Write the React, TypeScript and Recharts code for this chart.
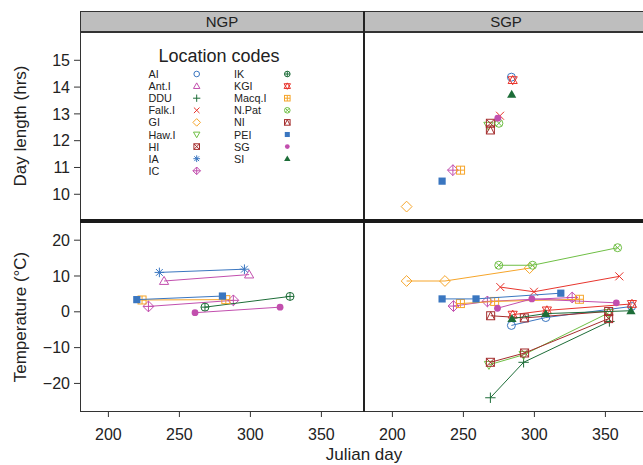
import { ScatterChart, Scatter, XAxis, YAxis } from 'recharts'

const FONT = '"Liberation Sans", Arial, Helvetica, sans-serif'
const INK = '#222'
const FRAME = '#333'

// location codes, in the legend's order; symbol = R pch 1..17
const LOCATIONS = [
  'AI', 'Ant.I', 'DDU', 'Falk.I', 'GI', 'Haw.I', 'HI', 'IA', 'IC',
  'IK', 'KGI', 'Macq.I', 'N.Pat', 'NI', 'PEI', 'SG', 'SI',
]
const PALETTE = ['#3a76c0', '#c24fae', '#1d6d38', '#e8352d', '#f6a52a', '#6fbf45', '#a42d2d']

const X_TICKS = [200, 250, 300, 350]
const DAY_TICKS = [10, 11, 12, 13, 14, 15]
const TEMP_TICKS = [-20, -10, 0, 10, 20]

type Row = [string, number, number]

// [location, julian day, hours]
const SGP_DAY_LENGTH: Row[] = [
  ['AI', 283.8, 14.37],
  ['Falk.I', 275.8, 12.93],
  ['GI', 210, 9.54],
  ['Haw.I', 267.6, 12.56],
  ['HI', 269, 12.65],
  ['IC', 242.6, 10.9],
  ['KGI', 284.7, 14.26],
  ['Macq.I', 248, 10.9],
  ['N.Pat', 275, 12.65],
  ['NI', 269, 12.4],
  ['PEI', 235, 10.49],
  ['SG', 274.2, 12.84],
  ['SI', 284, 13.73],
]

// [location, julian day, degC]
const NGP_TEMPERATURE: Row[] = [
  ['Ant.I', 239.2, 8.6], ['Ant.I', 299.1, 10.4],
  ['IA', 235.9, 11.0], ['IA', 295.8, 11.9],
  ['IC', 228.2, 1.5], ['IC', 288, 3.2],
  ['IK', 268, 1.3], ['IK', 327.9, 4.3],
  ['Macq.I', 223.7, 3.3], ['Macq.I', 282.7, 3.4],
  ['PEI', 220, 3.4], ['PEI', 280.3, 4.4],
  ['SG', 261, -0.25], ['SG', 320.9, 1.3],
]

const SGP_TEMPERATURE: Row[] = [
  ['AI', 283.8, -3.8], ['AI', 308, -1.6], ['AI', 368.5, 1.5],
  ['DDU', 269, -24.0], ['DDU', 292.4, -14.1], ['DDU', 352.8, -2.7],
  ['Falk.I', 276, 6.9], ['Falk.I', 299.7, 5.6], ['Falk.I', 359.8, 9.9],
  ['GI', 210, 8.6], ['GI', 237, 8.6], ['GI', 296.6, 12.2],
  ['Haw.I', 268, -14.8], ['Haw.I', 292.4, -12.0], ['Haw.I', 352.3, -0.3],
  ['HI', 269, -14.1], ['HI', 293.1, -11.5], ['HI', 352.3, -1.9],
  ['IC', 243, 1.6], ['IC', 266.9, 2.9], ['IC', 326.6, 4.0],
  ['KGI', 284.7, -0.8], ['KGI', 308.8, 0.4], ['KGI', 368.7, 2.2],
  ['Macq.I', 247.9, 2.3], ['Macq.I', 272, 2.9], ['Macq.I', 331.7, 3.5],
  ['N.Pat', 274.9, 13.0], ['N.Pat', 298.7, 13.0], ['N.Pat', 358.6, 17.9],
  ['NI', 269.2, -1.1], ['NI', 292.9, -1.7], ['NI', 352.3, 0.1],
  ['PEI', 235, 3.6], ['PEI', 258.9, 3.6], ['PEI', 318.6, 5.2],
  ['SG', 274, 1.0], ['SG', 298.2, 3.6], ['SG', 357.7, 2.5],
  ['SI', 284.2, -1.9], ['SI', 308, -0.5], ['SI', 368, 0.3],
]

const colorOf = (i: number) => PALETTE[i % PALETTE.length]

function Marker({ cx, cy, pch, color, s = 4 }: { cx: number; cy: number; pch: number; color: string; s?: number }) {
  const st = { stroke: color, strokeWidth: 1, fill: 'none' }
  const sq = <rect x={cx - s} y={cy - s} width={2 * s} height={2 * s} {...st} />
  const circ = <circle cx={cx} cy={cy} r={s} {...st} />
  const d = s * 1.35
  const diamond = <polygon points={`${cx},${cy - d} ${cx + d},${cy} ${cx},${cy + d} ${cx - d},${cy}`} {...st} />
  const tw = s * 1.15
  const up = `${cx},${cy - s * 1.15} ${cx - tw},${cy + s * 0.85} ${cx + tw},${cy + s * 0.85}`
  const down = `${cx},${cy + s * 1.15} ${cx - tw},${cy - s * 0.85} ${cx + tw},${cy - s * 0.85}`
  const plus = (r: number) => <path d={`M${cx - r},${cy}H${cx + r}M${cx},${cy - r}V${cy + r}`} {...st} />
  const cross = (r: number) => <path d={`M${cx - r},${cy - r}L${cx + r},${cy + r}M${cx - r},${cy + r}L${cx + r},${cy - r}`} {...st} />
  switch (pch) {
    case 1: return circ
    case 2: return <polygon points={up} {...st} />
    case 3: return plus(s * 1.3)
    case 4: return cross(s)
    case 5: return diamond
    case 6: return <polygon points={down} {...st} />
    case 7: return <g>{sq}{cross(s)}</g>
    case 8: return <g>{plus(s * 1.2)}{cross(s * 0.85)}</g>
    case 9: return <g>{diamond}{plus(d)}</g>
    case 10: return <g>{circ}{plus(s)}</g>
    case 11: return <g><polygon points={up} {...st} /><polygon points={down} {...st} /></g>
    case 12: return <g>{sq}{plus(s)}</g>
    case 13: return <g>{circ}{cross(s * 0.7)}</g>
    case 14: return <g>{sq}<polyline points={`${cx - s},${cy + s} ${cx},${cy - s} ${cx + s},${cy + s}`} {...st} /></g>
    case 15: return <rect x={cx - s * 0.9} y={cy - s * 0.9} width={s * 1.8} height={s * 1.8} fill={color} />
    case 16: return <circle cx={cx} cy={cy} r={s * 0.85} fill={color} />
    case 17: return <polygon points={up} fill={color} />
    default: return null
  }
}

function seriesFor(rows: Row[]) {
  return LOCATIONS.map((loc, i) => ({
    loc,
    i,
    points: rows
      .filter((r) => r[0] === loc)
      .map((r) => ({ day: r[1], value: r[2] }))
      .sort((a, b) => a.day - b.day),
  })).filter((s) => s.points.length > 0)
}

const fmt = (v: number) => (v < 0 ? `\u2212${-v}` : `${v}`)

interface PanelProps {
  rows: Row[]
  left: number
  top: number
  width: number
  height: number
  yDomain: [number, number]
  yTicks: number[]
  showY: boolean
  showX: boolean
}

function Panel({ rows, left, top, width, height, yDomain, yTicks, showY, showX }: PanelProps) {
  const series = seriesFor(rows)
  return (
    <div style={{ position: 'absolute', left, top }}>
      <ScatterChart width={width} height={height} margin={{ top: 0, right: 0, bottom: 0, left: 0 }}>
        <XAxis
          type="number"
          dataKey="day"
          domain={[180, 380]}
          ticks={X_TICKS}
          interval={0}
          allowDataOverflow
          hide={!showX}
          height={40}
          axisLine={false}
          tickSize={6}
          tickMargin={12}
          tickLine={{ stroke: FRAME }}
          tick={{ fontSize: 16, fill: INK }}
        />
        <YAxis
          type="number"
          dataKey="value"
          domain={yDomain}
          ticks={yTicks}
          interval={0}
          allowDataOverflow
          hide={!showY}
          width={80}
          axisLine={false}
          tickSize={6}
          tickMargin={4}
          tickLine={{ stroke: FRAME }}
          tick={{ fontSize: 16, fill: INK }}
          tickFormatter={fmt}
        />
        {series.map((s) => (
          <Scatter
            key={s.loc}
            name={s.loc}
            data={s.points}
            isAnimationActive={false}
            line={{ stroke: colorOf(s.i), strokeWidth: 1 }}
            lineType="joint"
            shape={(p: any) => <Marker cx={p.cx} cy={p.cy} pch={s.i + 1} color={colorOf(s.i)} />}
          />
        ))}
      </ScatterChart>
    </div>
  )
}

function LegendBox() {
  const rowY = (k: number) => 74 + k * 12.1
  return (
    <svg width={364} height={220} style={{ position: 'absolute', left: 0, top: 0 }}>
      <text x={219} y={62} textAnchor="middle" fontSize={18} fill={INK}>Location codes</text>
      {LOCATIONS.map((loc, i) => {
        const col = i < 9 ? 0 : 1
        const k = col === 0 ? i : i - 9
        const tx = col === 0 ? 148.5 : 234
        const mx = col === 0 ? 196.7 : 287.3
        const y = rowY(k)
        return (
          <g key={loc}>
            <text x={tx} y={y + 4} fontSize={10.8} fill={INK}>{loc}</text>
            <Marker cx={mx} cy={y} pch={i + 1} color={colorOf(i)} s={2.8} />
          </g>
        )
      })}
    </svg>
  )
}

const stripStyle = {
  position: 'absolute' as const,
  top: 11,
  width: 284,
  height: 21,
  boxSizing: 'border-box' as const,
  background: '#bebebe',
  border: `1px solid ${FRAME}`,
  textAlign: 'center' as const,
  fontSize: 15,
  lineHeight: '19px',
  color: INK,
}

export default function App() {
  return (
    <div
      style={{
        position: 'absolute',
        left: 0,
        top: 0,
        width: 643,
        height: 465,
        overflow: 'hidden',
        background: '#fff',
        fontFamily: FONT,
      }}
    >
      <div style={{ ...stripStyle, left: 80 }}>NGP</div>
      <div style={{ ...stripStyle, left: 364 }}>SGP</div>

      <Panel rows={[]} left={0} top={32} width={364} height={188} yDomain={[9.04, 16.056]} yTicks={DAY_TICKS} showY showX={false} />
      <Panel rows={SGP_DAY_LENGTH} left={364} top={32} width={284} height={188} yDomain={[9.04, 16.056]} yTicks={DAY_TICKS} showY={false} showX={false} />
      <Panel rows={NGP_TEMPERATURE} left={0} top={223} width={364} height={228} yDomain={[-27.7, 24.8]} yTicks={TEMP_TICKS} showY showX />
      <Panel rows={SGP_TEMPERATURE} left={364} top={223} width={284} height={228} yDomain={[-27.7, 24.8]} yTicks={TEMP_TICKS} showY={false} showX />

      <LegendBox />

      {/* panel frames */}
      <div style={{ position: 'absolute', left: 80, top: 32, width: 570, height: 380, boxSizing: 'border-box', border: `1px solid ${FRAME}` }} />
      <div style={{ position: 'absolute', left: 363, top: 11, width: 1.6, height: 401, background: INK }} />
      <div style={{ position: 'absolute', left: 80, top: 219, width: 570, height: 4, background: '#1a1a1a' }} />

      <div style={{ position: 'absolute', left: 21, top: 126, transform: 'translate(-50%, -50%) rotate(-90deg)', whiteSpace: 'nowrap', fontSize: 17, color: INK }}>
        Day length (hrs)
      </div>
      <div style={{ position: 'absolute', left: 21, top: 317, transform: 'translate(-50%, -50%) rotate(-90deg)', whiteSpace: 'nowrap', fontSize: 17, color: INK }}>
        Temperature (°C)
      </div>
      <div style={{ position: 'absolute', left: 364, top: 455, transform: 'translate(-50%, -50%)', whiteSpace: 'nowrap', fontSize: 17, color: INK }}>
        Julian day
      </div>
    </div>
  )
}
